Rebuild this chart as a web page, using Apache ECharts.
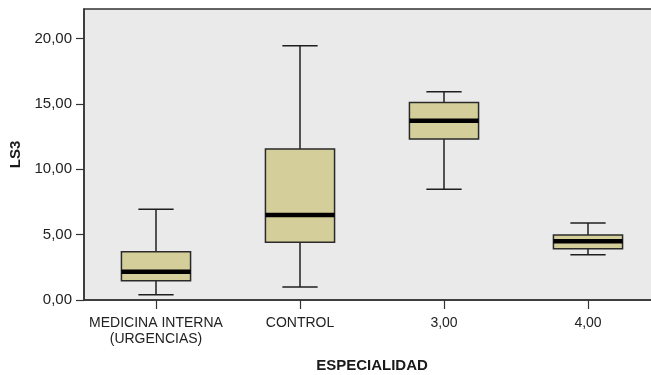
<!DOCTYPE html>
<html>
<head>
<meta charset="utf-8">
<script src="https://cdn.jsdelivr.net/npm/echarts@6/dist/echarts.min.js"></script>
<style>
  html, body { margin: 0; padding: 0; background: #ffffff; }
  #chart { width: 651px; height: 375px; }
</style>
</head>
<body>
<div id="chart"></div>
<script>
// Group labels on the horizontal axis
const categories = ['MEDICINA INTERNA\n(URGENCIAS)', 'CONTROL', '3,00', '4,00'];
// Five-number summaries per group: lower whisker, Q1, median, Q3, upper whisker
const lowerWhisker = [0.41, 0.99, 8.46, 3.46];
const quartile1    = [1.48, 4.41, 12.31, 3.92];
const medians      = [2.16, 6.50, 13.71, 4.49];
const quartile3    = [3.69, 11.54, 15.11, 4.97];
const upperWhisker = [6.93, 19.44, 15.93, 5.89];
// Value axis tick labels
const yTicks = [0, 5, 10, 15, 20];
const yTickLabels = ['0,00', '5,00', '10,00', '15,00', '20,00'];

const FONT = '"Liberation Sans", Arial, sans-serif';

const boxData = categories.map((c, i) => [i, lowerWhisker[i], quartile1[i], medians[i], quartile3[i], upperWhisker[i]]);

function renderBox(params, api) {
  const x = api.value(0);
  const band = api.size([1, 0])[0];
  const half = band * 0.48 / 2;
  const capHalf = band * 0.245 / 2;
  const pMin = api.coord([x, api.value(1)]);
  const pQ1 = api.coord([x, api.value(2)]);
  const pMed = api.coord([x, api.value(3)]);
  const pQ3 = api.coord([x, api.value(4)]);
  const pMax = api.coord([x, api.value(5)]);
  const cx = pMed[0];
  const lineStyle = { stroke: '#1f1f1f', lineWidth: 1.5, fill: null };
  return {
    type: 'group',
    children: [
      { type: 'line', shape: { x1: cx, y1: pQ3[1], x2: cx, y2: pMax[1] }, style: lineStyle },
      { type: 'line', shape: { x1: cx, y1: pQ1[1], x2: cx, y2: pMin[1] }, style: lineStyle },
      { type: 'line', shape: { x1: cx - capHalf, y1: pMax[1], x2: cx + capHalf, y2: pMax[1] }, style: lineStyle },
      { type: 'line', shape: { x1: cx - capHalf, y1: pMin[1], x2: cx + capHalf, y2: pMin[1] }, style: lineStyle },
      { type: 'rect', shape: { x: cx - half, y: pQ3[1], width: half * 2, height: pQ1[1] - pQ3[1] },
        style: { fill: '#D4CF9A', stroke: '#2a2a2a', lineWidth: 1.5 } },
      { type: 'line', shape: { x1: cx - half, y1: pMed[1], x2: cx + half, y2: pMed[1] },
        style: { stroke: '#000000', lineWidth: 4.5 } }
    ]
  };
}

const chart = echarts.init(document.getElementById('chart'), null, { renderer: 'canvas' });
chart.setOption({
  animation: false,
  backgroundColor: '#ffffff',
  grid: {
    left: 84, top: 9, width: 576, height: 291,
    outerBoundsMode: 'none',
    containLabel: false,
    show: true, backgroundColor: '#EAEAEA', borderColor: '#333333', borderWidth: 1.5
  },
  xAxis: {
    type: 'category',
    data: categories,
    boundaryGap: true,
    name: 'ESPECIALIDAD',
    nameLocation: 'middle',
    nameGap: 58,
    nameTextStyle: { fontFamily: FONT, fontWeight: 'bold', fontSize: 15, color: '#1a1a1a' },
    axisLine: { show: true, lineStyle: { color: '#333333', width: 1.5 } },
    axisTick: { show: true, alignWithLabel: true, length: 9, lineStyle: { color: '#333333', width: 1.2 } },
    axisLabel: { fontFamily: FONT, fontSize: 14, color: '#222222', margin: 15, lineHeight: 16, interval: 0 },
    splitLine: { show: false }
  },
  yAxis: {
    type: 'value',
    min: 0,
    max: 22.25,
    interval: 5,
    name: 'LS3',
    nameLocation: 'middle',
    nameGap: 60,
    nameRotate: 90,
    nameTextStyle: { fontFamily: FONT, fontWeight: 'bold', fontSize: 15, color: '#1a1a1a' },
    axisLine: { show: true, lineStyle: { color: '#333333', width: 1.5 } },
    axisTick: { show: true, length: 8, lineStyle: { color: '#333333', width: 1.2 } },
    axisLabel: {
      fontFamily: FONT, fontSize: 15, color: '#222222', margin: 12,
      showMaxLabel: false,
      formatter: v => { const k = yTicks.indexOf(v); return k >= 0 ? yTickLabels[k] : ''; }
    },
    splitLine: { show: false }
  },
  series: [{
    type: 'custom',
    renderItem: renderBox,
    encode: { x: 0, y: [1, 2, 3, 4, 5] },
    data: boxData,
    clip: false
  }]
});
</script>
</body>
</html>
